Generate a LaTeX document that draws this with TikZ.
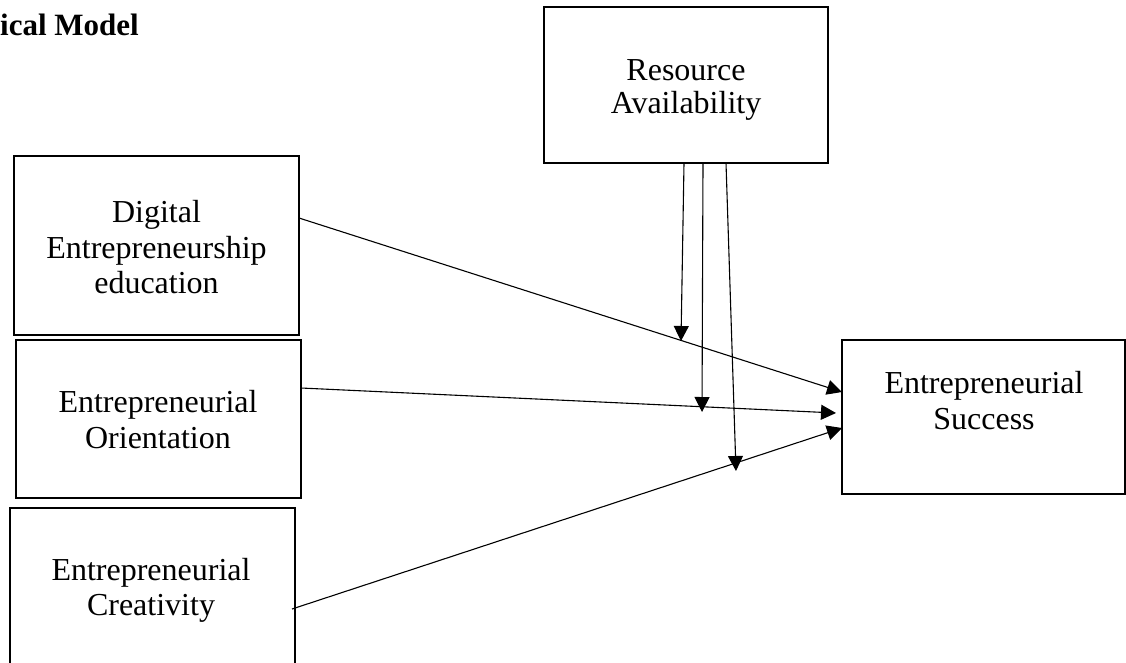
\documentclass[tikz,border=0pt]{standalone}
\usepackage{fontspec}
\setmainfont{Liberation Serif}
\usetikzlibrary{arrows.meta}
\begin{document}
\begin{tikzpicture}[x=1pt,y=-1pt,
  box/.style={draw, line width=2.2pt, inner sep=0pt, outer sep=0pt, minimum width=#1},
  txt/.style={anchor=base, inner sep=0pt, font=\fontsize{32}{35}\selectfont},
  conn/.style={line width=1.1pt, -{Triangle[length=15pt,width=15pt]}}]
\useasboundingbox (0,0) rectangle (1126,662);
\clip (0,0) rectangle (1126,662);
% title
\node[anchor=base west, inner sep=0pt, font=\fontsize{31}{35}\selectfont\bfseries] (title) at (0,35) {ical Model};
% boxes
\node[box=284pt, minimum height=156pt] (ra) at (686,85) {};
\node[box=285pt, minimum height=179pt] (dee) at (156.5,245.5) {};
\node[box=285pt, minimum height=158pt] (eo) at (158.5,419) {};
\node[box=285pt, minimum height=172pt] (ec) at (152.5,594) {};
\node[box=283pt, minimum height=154pt] (es) at (983.5,417) {};
% labels
\node[txt] (ra1) at (686,80) {Resource};
\node[txt] (ra2) at (686,113) {Availability};
\node[txt] (dee1) at (156.5,222) {Digital};
\node[txt] (dee2) at (156.5,258) {Entrepreneurship};
\node[txt] (dee3) at (156.5,293) {education};
\node[txt] (eo1) at (158,412) {Entrepreneurial};
\node[txt] (eo2) at (158,448) {Orientation};
\node[txt] (ec1) at (151,580) {Entrepreneurial};
\node[txt] (ec2) at (151,615) {Creativity};
\node[txt] (es1) at (984,393) {Entrepreneurial};
\node[txt] (es2) at (984,429) {Success};
% moderation targets
\coordinate (m1) at (681,341);
\coordinate (m2) at (702,412);
\coordinate (m3) at (736,471);
% connectors
\draw[conn] ([yshift=27.5pt]dee.east) -- ([yshift=25pt]es.west);
\draw[conn] ([yshift=31pt]eo.east) -- ([xshift=-6pt,yshift=4pt]es.west);
\draw[conn] ([xshift=-3pt,yshift=-15pt]ec.east) -- ([yshift=-11pt]es.west);
\draw[conn] ([xshift=-2pt]ra.south) -- (m1);
\draw[conn] ([xshift=17pt]ra.south) -- (m2);
\draw[conn] ([xshift=40pt]ra.south) -- (m3);
\end{tikzpicture}
\end{document}
